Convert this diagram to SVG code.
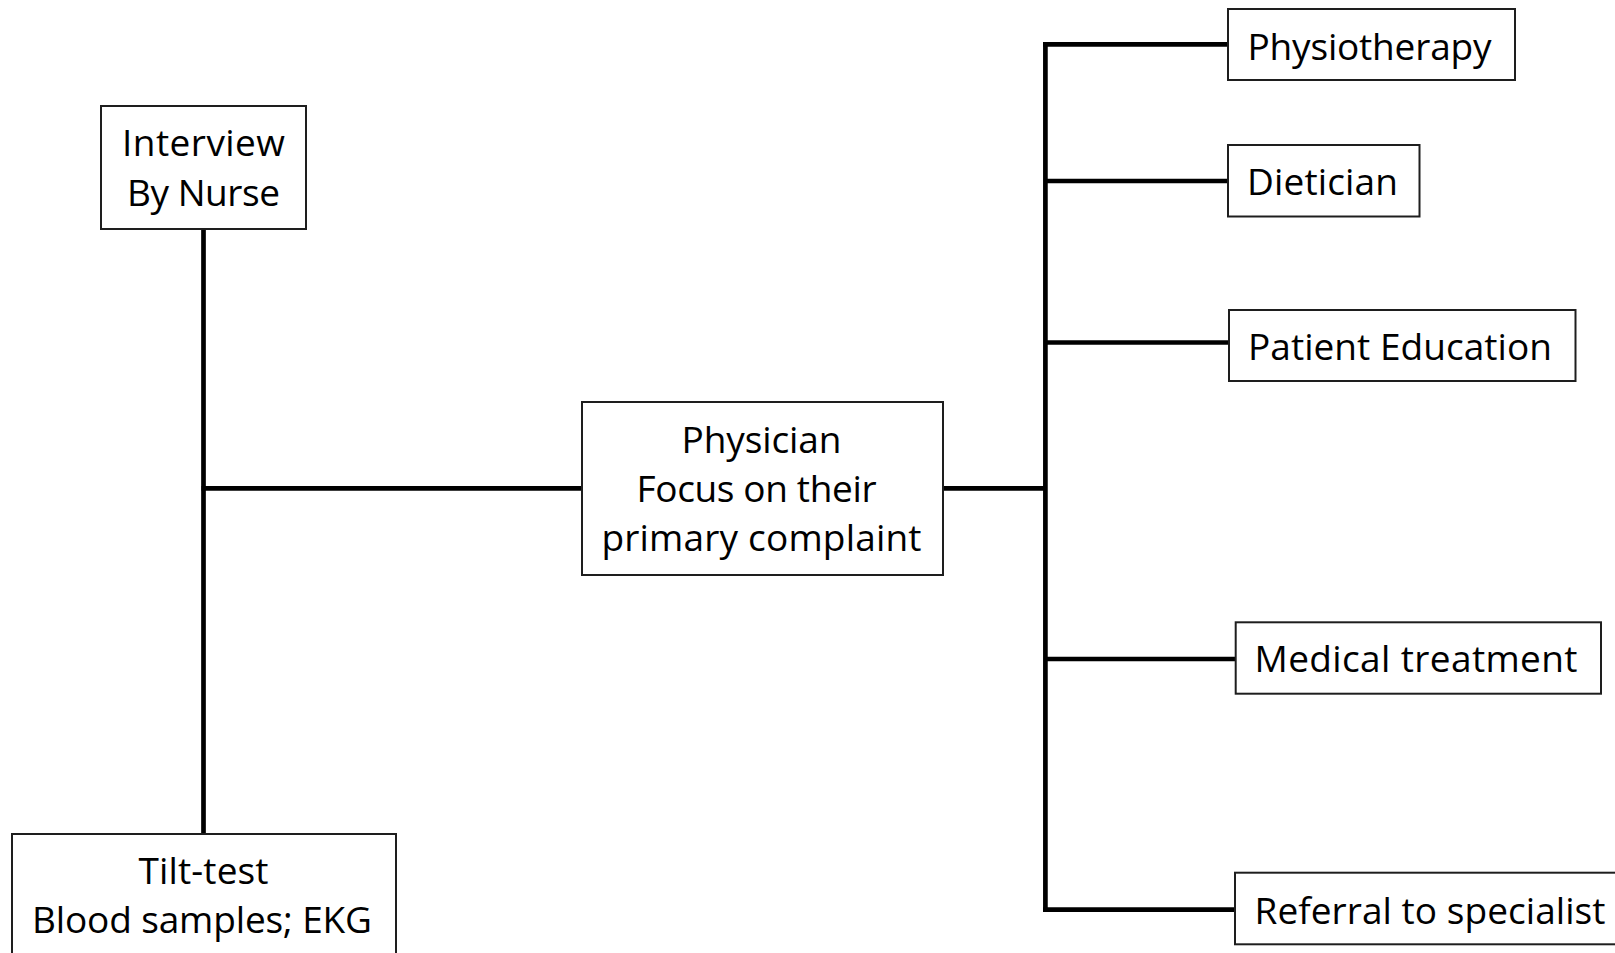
<svg xmlns="http://www.w3.org/2000/svg" width="1615" height="953" viewBox="0 0 1615 953">
<style>
.box{fill:#fff;stroke:#1e1e1e;stroke-width:2}
.t{font-family:"Open Sans","Liberation Sans",sans-serif;font-size:37px;fill:#000}
.c{text-anchor:middle}
.ln{stroke:#000;stroke-width:4.7;fill:none}
</style>
<rect width="1615" height="953" fill="#fff"/>
<g id="connectors">
<line class="ln" x1="203.5" y1="229" x2="203.5" y2="833"/>
<line class="ln" x1="201.5" y1="488.4" x2="582" y2="488.4"/>
<line class="ln" x1="943" y1="488.4" x2="1047" y2="488.4"/>
<line class="ln" x1="1045.4" y1="44" x2="1045.4" y2="912"/>
<line class="ln" x1="1043" y1="44.4" x2="1228" y2="44.4"/>
<line class="ln" x1="1045" y1="181" x2="1228" y2="181"/>
<line class="ln" x1="1045" y1="342.5" x2="1229" y2="342.5"/>
<line class="ln" x1="1045" y1="659" x2="1236" y2="659"/>
<line class="ln" x1="1043" y1="909.7" x2="1235" y2="909.7"/>
</g>
<g id="interview">
<rect class="box" x="101" y="106" width="205" height="123"/>
<text class="t c" x="203.5" y="156" textLength="163">Interview</text>
<text class="t c" x="203.5" y="206" textLength="153">By Nurse</text>
</g>
<g id="tilt">
<rect class="box" x="12" y="834" width="384" height="130"/>
<text class="t c" x="203.5" y="884" textLength="130">Tilt-test</text>
<text class="t c" x="202" y="933" textLength="340">Blood samples; EKG</text>
</g>
<g id="physician">
<rect class="box" x="582" y="402" width="361" height="173"/>
<text class="t c" x="761.5" y="453" textLength="160">Physician</text>
<text class="t c" x="756.5" y="502" textLength="240">Focus on their</text>
<text class="t c" x="761.5" y="551" textLength="320">primary complaint</text>
</g>
<g id="physiotherapy">
<rect class="box" x="1228" y="9" width="287" height="71"/>
<text class="t" x="1247.5" y="59.5" textLength="244">Physiotherapy</text>
</g>
<g id="dietician">
<rect class="box" x="1228" y="145" width="191.5" height="71.5"/>
<text class="t" x="1247" y="194.5" textLength="151">Dietician</text>
</g>
<g id="education">
<rect class="box" x="1229" y="310" width="346.5" height="71"/>
<text class="t" x="1248" y="360" textLength="304">Patient Education</text>
</g>
<g id="medical">
<rect class="box" x="1235.7" y="622.3" width="365.3" height="71.4"/>
<text class="t" x="1254.5" y="671.7" textLength="323">Medical treatment</text>
</g>
<g id="referral">
<rect class="box" x="1235" y="872.7" width="400" height="71.6"/>
<text class="t" x="1254.5" y="923.5" textLength="351">Referral to specialist</text>
</g>
</svg>
